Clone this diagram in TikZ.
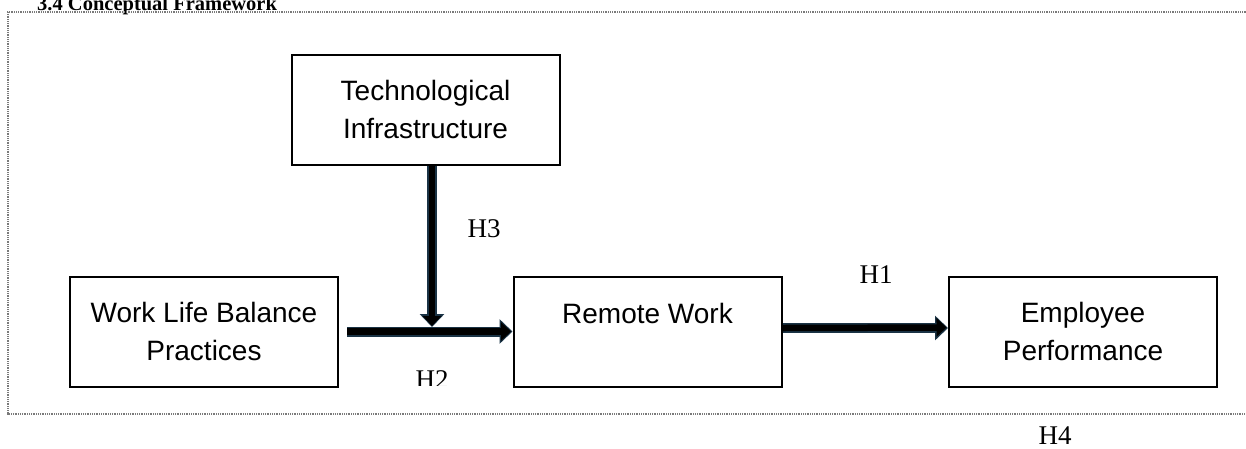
\documentclass[tikz,border=0pt]{standalone}
\usepackage{fontspec}
\setmainfont{Liberation Sans}
\newfontfamily\serifface{Liberation Serif}
\usetikzlibrary{arrows.meta}
\definecolor{arrowedge}{HTML}{1A3345}
\definecolor{framegray}{HTML}{7A7A7A}
\begin{document}
\begin{tikzpicture}[x=1pt,y=-1pt,
  box/.style={draw=black, line width=2pt, inner sep=0pt, align=center,
    minimum width=268pt, minimum height=110pt,
    font=\fontsize{28}{38}\selectfont},
  hlabel/.style={font=\serifface\fontsize{27}{30}\selectfont, anchor=base, inner sep=0pt},
  outerarrow/.style={draw=arrowedge, line width=10pt, -{Triangle[length=13pt,width=24pt]}},
  innerarrow/.style={draw=black, line width=6.5pt, -{Triangle[length=10pt,width=18pt]}},
  frame/.style={draw=framegray, line width=1.4pt, dash pattern=on 1pt off 0.8pt}
]
\useasboundingbox (0,0) rectangle (1246,448);
\clip (0,0) rectangle (1246,448);

% title (cut off at the top)
\node[font=\serifface\bfseries\fontsize{20.5}{24}\selectfont, anchor=base west, inner sep=0pt] (title) at (37,10) {3.4 Conceptual Framework};

% dotted frame
\draw[frame] (1250,12) -- (8,12) -- (8,414) -- (1250,414);

% boxes
\node[box] (tech) at (425.5,109.5) {Technological\\Infrastructure};
\node[box] (wlb) at (204,331.5) {Work Life Balance\\Practices};
\node[box] (rw) at (647.5,332) {Remote Work\\\mbox{}};
\node[box] (ep) at (1083,331.5) {Employee\\Performance};

% connector coordinates
\coordinate (h2s) at ([xshift=8pt]wlb.east);
\coordinate (vend) at (432,327);

% arrows (outline then fill)
\draw[outerarrow] (tech.south -| vend) -- (vend);
\draw[outerarrow] (h2s) -- (h2s -| rw.west);
\draw[outerarrow] ([yshift=4pt]rw.east) -- ([yshift=3.5pt]ep.west);
\draw[innerarrow] (tech.south -| vend) -- ([yshift=1pt]vend);
\draw[innerarrow] (h2s) -- ([xshift=-1.5pt]h2s -| rw.west);
\draw[innerarrow] ([yshift=4pt]rw.east) -- ([yshift=4pt,xshift=-1.5pt]ep.west);

% labels
\node[hlabel] (h3) at (484,237) {H3};
\node[hlabel] (h1) at (876,283) {H1};
\begin{scope}
\clip (380,350) rectangle (480,385);
\node[hlabel] (h2) at (432,388) {H2};
\end{scope}
\node[hlabel] (h4) at (1055,444) {H4};
\end{tikzpicture}
\end{document}
